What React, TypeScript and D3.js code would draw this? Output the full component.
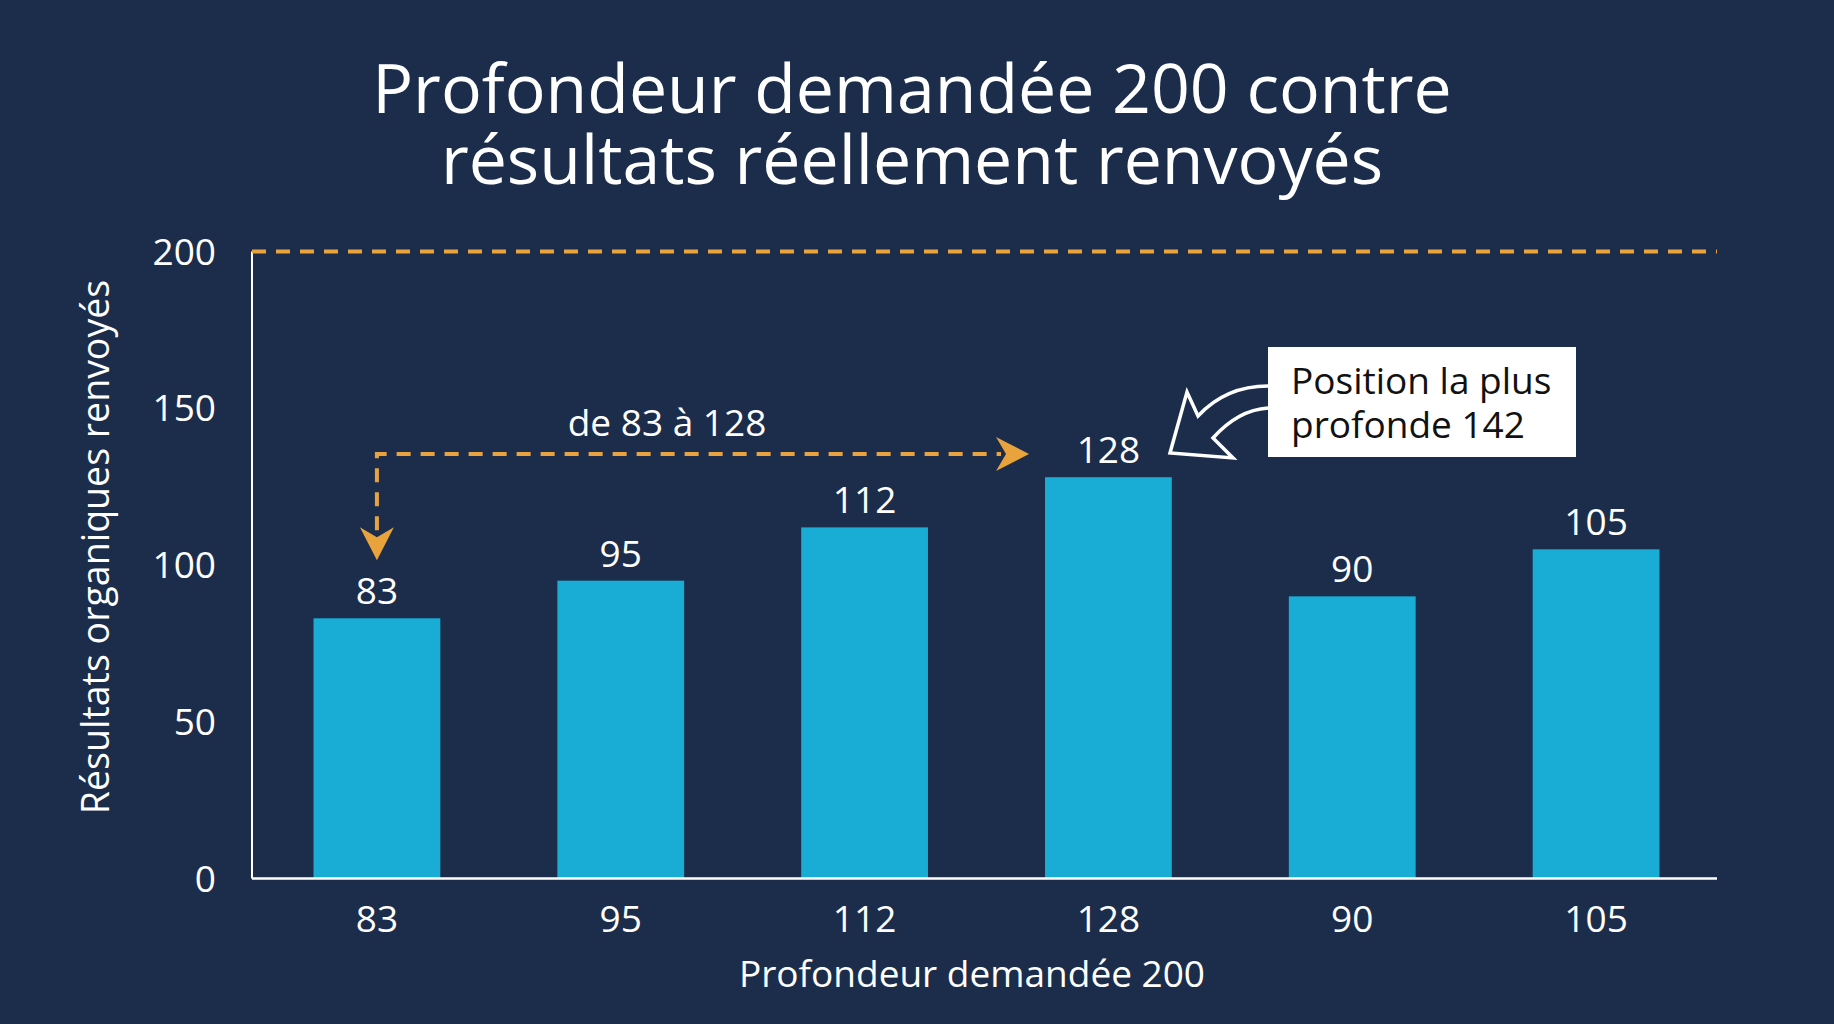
import React from "react";
import * as d3 from "d3";

const categories = ["83", "95", "112", "128", "90", "105"];
const values = [83, 95, 112, 128, 90, 105];
const yTicks = [0, 50, 100, 150, 200];
const requestedDepth = 200;
const titleLines = ["Profondeur demandée 200 contre", "résultats réellement renvoyés"];
const xTitle = "Profondeur demandée 200";
const yTitle = "Résultats organiques renvoyés";
const rangeLabel = "de 83 à 128";
const rangeFrom = 83;
const rangeTo = 128;
const calloutLines = ["Position la plus", "profonde 142"];

const W = 1834;
const H = 1024;
const BG = "#1C2D4B";
const BAR = "#19ADD6";
const ORANGE = "#E8A33D";
const FONT = "'Open Sans', 'Noto Sans', sans-serif";

export default function App() {
  const margin = { left: 252, right: W - 1717, top: 251.5, bottom: H - 878.5 };
  const x = d3
    .scaleBand<string>()
    .domain(categories)
    .range([margin.left + 3, W - margin.right + 1])
    .paddingInner(0.48)
    .paddingOuter(0.24);
  const y = d3.scaleLinear().domain([0, 200]).range([H - margin.bottom, margin.top]);

  const fromIdx = values.indexOf(rangeFrom);
  const toIdx = values.indexOf(rangeTo);
  const xFrom = (x(categories[fromIdx]) as number) + x.bandwidth() / 2;
  const xToBar = x(categories[toIdx]) as number;
  const yRange = 454;
  const arrowTipX = xToBar - 16;
  const arrowTipY = y(rangeFrom) - 58;

  const head = (tx: number, ty: number, dir: "right" | "down") => {
    const L = 33, Wd = 17, notch = 10;
    if (dir === "right")
      return `M${tx},${ty} L${tx - L},${ty - Wd} L${tx - L + notch},${ty} L${tx - L},${ty + Wd} Z`;
    return `M${tx},${ty} L${tx - Wd},${ty - L} L${tx},${ty - L + notch} L${tx + Wd},${ty - L} Z`;
  };

  const boxX = 1268, boxY = 347, boxW = 308, boxH = 110;
  const arrowPath =
    `M${boxX},386 Q1226,386 1198,416 L1187,392 L1170,453 L1233,458 L1213,438 Q1238,410 ${boxX},408`;

  return (
    <svg width={W} height={H} style={{ position: "absolute", left: 0, top: 0, background: BG }} fontFamily={FONT}>
      <rect x={0} y={0} width={W} height={H} fill={BG} />
      {titleLines.map((t, i) => (
        <text key={i} x={912} y={113 + i * 71} textAnchor="middle" fill="#fff" fontSize={68}>
          {t}
        </text>
      ))}

      {/* bars */}
      {values.map((v, i) => (
        <g key={i}>
          <rect
            x={x(categories[i]) as number}
            y={y(v)}
            width={x.bandwidth()}
            height={y(0) - y(v)}
            fill={BAR}
          />
          <text
            x={(x(categories[i]) as number) + x.bandwidth() / 2}
            y={y(v) - 14}
            textAnchor="middle"
            fill="#fff"
            fontSize={37}
          >
            {v}
          </text>
          <text
            x={(x(categories[i]) as number) + x.bandwidth() / 2}
            y={y(0) + 53}
            textAnchor="middle"
            fill="#fff"
            fontSize={37}
          >
            {categories[i]}
          </text>
        </g>
      ))}

      {/* axes */}
      <line x1={margin.left} x2={margin.left} y1={y(200)} y2={y(0)} stroke="#fff" strokeWidth={2} />
      <line x1={margin.left} x2={W - margin.right} y1={y(0)} y2={y(0)} stroke="#fff" strokeWidth={2.5} />
      {yTicks.map((t) => (
        <text key={t} x={216} y={y(t) + 13} textAnchor="end" fill="#fff" fontSize={37}>
          {t}
        </text>
      ))}

      {/* requested depth line */}
      <line
        x1={margin.left}
        x2={W - margin.right}
        y1={y(requestedDepth)}
        y2={y(requestedDepth)}
        stroke={ORANGE}
        strokeWidth={4}
        strokeDasharray="14 10"
      />

      {/* axis titles */}
      <text x={972} y={987} textAnchor="middle" fill="#fff" fontSize={37}>
        {xTitle}
      </text>
      <text
        transform={`translate(109,547) rotate(-90)`}
        textAnchor="middle"
        fill="#fff"
        fontSize={37.5}
      >
        {yTitle}
      </text>

      {/* range annotation */}
      <path
        d={`M${xFrom},${arrowTipY - 30} L${xFrom},${yRange} L${arrowTipX - 28},${yRange}`}
        fill="none"
        stroke={ORANGE}
        strokeWidth={4}
        strokeDasharray="14 10"
      />
      <path d={head(arrowTipX, yRange, "right")} fill={ORANGE} />
      <path d={head(xFrom, arrowTipY, "down")} fill={ORANGE} />
      <text x={667} y={436} textAnchor="middle" fill="#fff" fontSize={37}>
        {rangeLabel}
      </text>

      {/* callout */}
      <path d={arrowPath} fill={BG} stroke="#fff" strokeWidth={3.5} strokeLinejoin="miter" />
      <rect x={boxX} y={boxY} width={boxW} height={boxH} fill="#fff" />
      {calloutLines.map((t, i) => (
        <text key={i} x={1291} y={394 + i * 44} fill="#111" fontSize={37}>
          {t}
        </text>
      ))}
    </svg>
  );
}
